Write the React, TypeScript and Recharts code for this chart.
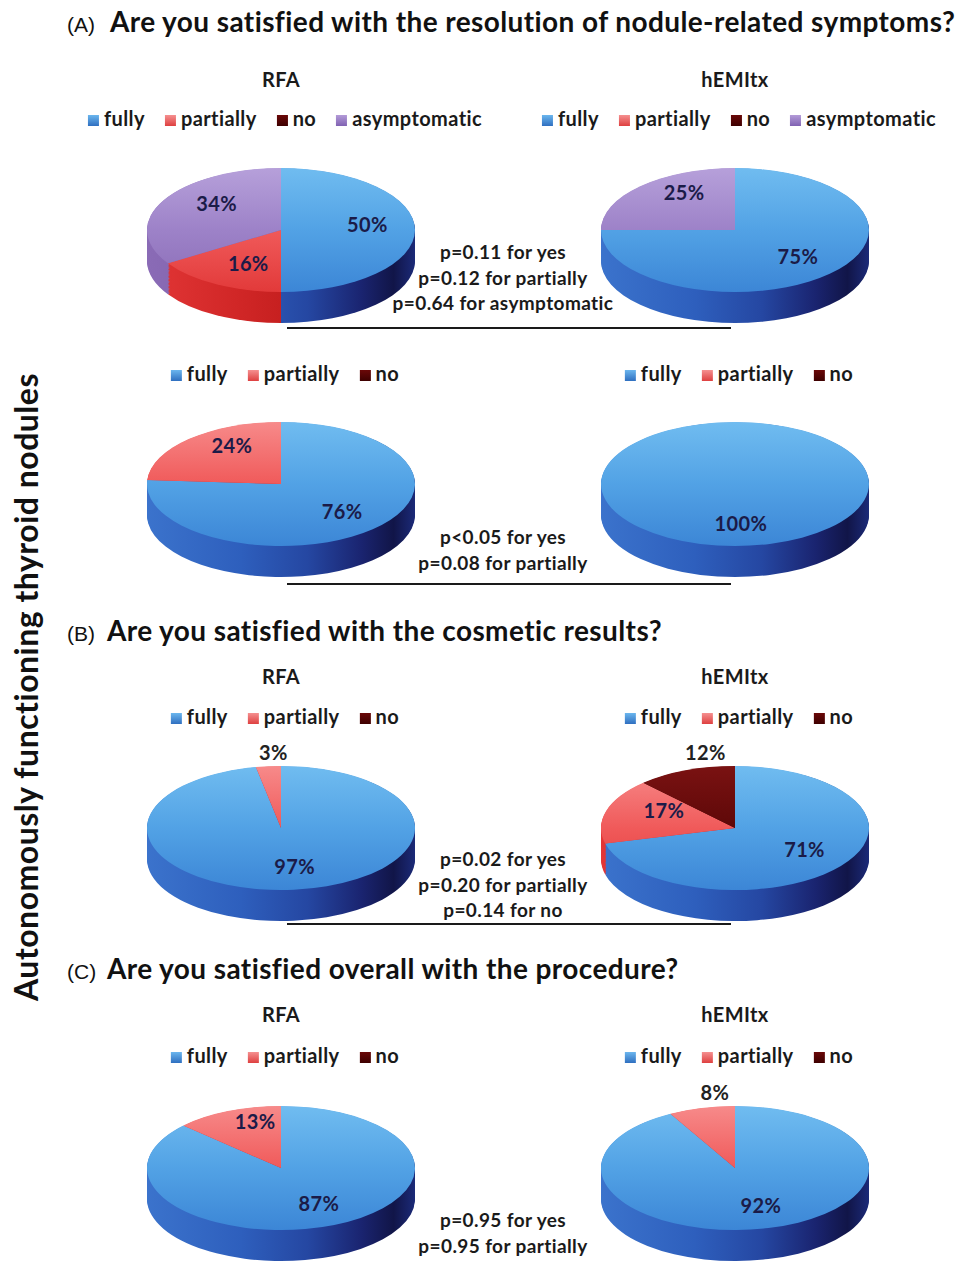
import React from 'react';
import { PieChart, Pie, Cell } from 'recharts';

// categories
const CATS_SYMPTOMS = ['fully', 'partially', 'no', 'asymptomatic'];
const CATS = ['fully', 'partially', 'no'];

// percentages per category, RFA vs hEMItx
const symptomsRFA = [50, 16, 0, 34];
const symptomsHEMItx = [75, 0, 0, 25];
const symptomaticRFA = [76, 24, 0];
const symptomaticHEMItx = [100, 0, 0];
const cosmeticRFA = [97, 3, 0];
const cosmeticHEMItx = [71, 17, 12];
const overallRFA = [87, 13, 0];
const overallHEMItx = [92, 8, 0];

// p-value notes between the pies
const pSymptoms = ['p=0.11 for yes', 'p=0.12 for partially', 'p=0.64 for asymptomatic'];
const pSymptomatic = ['p<0.05 for yes', 'p=0.08 for partially'];
const pCosmetic = ['p=0.02 for yes', 'p=0.20 for partially', 'p=0.14 for no'];
const pOverall = ['p=0.95 for yes', 'p=0.95 for partially'];

const GROUPS = ['RFA', 'hEMItx'];
const QUESTIONS = [
  'Are you satisfied with the resolution of nodule-related symptoms?',
  'Are you satisfied with the cosmetic results?',
  'Are you satisfied overall with the procedure?',
];
const TAGS = ['(A)', '(B)', '(C)'];
const SIDE_TITLE = 'Autonomously functioning thyroid nodules';

const FONT = 'Lato, "Open Sans", sans-serif';
const RAD = Math.PI / 180;

// pie geometry (unscaled), the wrapper is squashed vertically by K
const K = 0.4627;
const R = 134;
const DEPTH = 67;
const PAD_TOP = 80;
const CW = 290;
const PIE_CY = PAD_TOP + R;
const CH = PIE_CY + R + DEPTH + 20;
const X_RFA = 281;
const X_HEMI = 735;

const TOP_STOPS: Record<string, string[]> = {
  fully: ['#70bcf0', '#52a2e5', '#3c86d6'],
  partially: ['#f78a8a', '#f05a5a', '#e23a3a'],
  no: ['#7a1212', '#5e0808', '#480404'],
  asymptomatic: ['#b6a0da', '#9d82c8', '#8a6cb6'],
};
const SIDE_STOPS: Record<string, string[]> = {
  fully: ['#3b73cc', '#2e5fbd', '#2547a2', '#1a2470', '#111548', '#1b2a78'],
  partially: ['#e23636', '#d02626', '#c01c1c', '#981212', '#6e0a0a', '#7a0c0c'],
  no: ['#4a0404', '#420303', '#3a0202', '#300101', '#2a0000', '#2a0000'],
  asymptomatic: ['#8a6bb6', '#7e60aa', '#72549e', '#634690', '#553a80', '#5a3d85'],
};
const SIDE_OFFSETS = [0, 0.35, 0.6, 0.8, 0.92, 1];
const LEGEND_SWATCH: Record<string, string> = {
  fully: 'linear-gradient(#6bb6ee, #2f6fc0)',
  partially: 'linear-gradient(#f59090, #de4040)',
  no: 'linear-gradient(#6a0808, #3e0000)',
  asymptomatic: 'linear-gradient(#b39bd8, #8062b2)',
};

const ROWS = [
  { cats: CATS_SYMPTOMS, rfa: symptomsRFA, hemi: symptomsHEMItx, notes: pSymptoms, cy: 230, header: 87, legend: 126, note: 259, rule: 328 },
  { cats: CATS, rfa: symptomaticRFA, hemi: symptomaticHEMItx, notes: pSymptomatic, cy: 484, header: null, legend: 381, note: 544, rule: 584 },
  { cats: CATS, rfa: cosmeticRFA, hemi: cosmeticHEMItx, notes: pCosmetic, cy: 828, header: 684, legend: 724, note: 866, rule: 924 },
  { cats: CATS, rfa: overallRFA, hemi: overallHEMItx, notes: pOverall, cy: 1168, header: 1022, legend: 1063, note: 1227, rule: null },
];
const TITLE_Y = [32, 641, 979];

const makeLabel = (props: any) => {
  const { cx, cy, midAngle, value, name, index } = props;
  if (!value) return null;
  const c = Math.cos(-midAngle * RAD);
  const s = Math.sin(-midAngle * RAD);
  // small or dark slices get their label above the pie
  const outside = value < 10 || name === 'no';
  const x = outside ? cx + 0.6 * R * c : cx + 6 + 0.6 * R * c;
  const y = outside ? cy - R - 14 / K : cy + 0.72 * R * s - 6 / K;
  return (
    <text
      key={`lbl-${index}`}
      transform={`translate(${x},${y}) scale(1,${1 / K})`}
      textAnchor="middle"
      dominantBaseline="central"
      fontFamily={FONT}
      fontWeight={700}
      fontSize={20}
      letterSpacing={0.4}
      fill={outside ? '#222' : '#1b1b48'}
    >
      {value}%
    </text>
  );
};

const Pie3D = ({ id, cats, values, cx, cy }: { id: string; cats: string[]; values: number[]; cx: number; cy: number }) => {
  const data = cats.map((name, i) => ({ name, value: values[i] }));
  const layers: number[] = [];
  for (let d = DEPTH; d > 0; d -= 3) layers.push(d);
  const mid = CW / 2;
  return (
    <div
      style={{
        position: 'absolute',
        left: cx - mid,
        top: cy - PIE_CY * K,
        width: CW,
        height: CH,
        transform: `scaleY(${K})`,
        transformOrigin: '0 0',
      }}
    >
      <PieChart width={CW} height={CH} margin={{ top: 0, right: 0, bottom: 0, left: 0 }}>
        <defs>
          {cats.map((cat) => (
            <linearGradient key={`t-${cat}`} id={`${id}-top-${cat}`} gradientUnits="userSpaceOnUse" x1={0} y1={PIE_CY - R} x2={0} y2={PIE_CY + R}>
              <stop offset="0" stopColor={TOP_STOPS[cat][0]} />
              <stop offset="0.5" stopColor={TOP_STOPS[cat][1]} />
              <stop offset="1" stopColor={TOP_STOPS[cat][2]} />
            </linearGradient>
          ))}
          {cats.map((cat) => (
            <linearGradient key={`s-${cat}`} id={`${id}-side-${cat}`} gradientUnits="userSpaceOnUse" x1={mid - R} y1={0} x2={mid + R} y2={0}>
              {SIDE_STOPS[cat].map((col, i) => (
                <stop key={i} offset={SIDE_OFFSETS[i]} stopColor={col} />
              ))}
            </linearGradient>
          ))}
        </defs>
        {/* stacked copies below the top face build the rim */}
        {layers.map((d) => (
          <Pie
            key={`side-${d}`}
            data={data}
            dataKey="value"
            cx={mid}
            cy={PIE_CY + d}
            outerRadius={R}
            startAngle={90}
            endAngle={-270}
            stroke="none"
            isAnimationActive={false}
          >
            {data.map((e) => (
              <Cell key={e.name} fill={`url(#${id}-side-${e.name})`} />
            ))}
          </Pie>
        ))}
        <Pie
          data={data}
          dataKey="value"
          cx={mid}
          cy={PIE_CY}
          outerRadius={R}
          startAngle={90}
          endAngle={-270}
          stroke="none"
          label={makeLabel}
          labelLine={false}
          isAnimationActive={false}
        >
          {data.map((e) => (
            <Cell key={e.name} fill={`url(#${id}-top-${e.name})`} />
          ))}
        </Pie>
      </PieChart>
    </div>
  );
};

const LegendRow = ({ cats, x, baseline }: { cats: string[]; x: number; baseline: number }) => {
  const fs = 20;
  return (
    <div
      style={{
        position: 'absolute',
        left: x,
        top: baseline - 0.887 * fs,
        transform: 'translateX(-50%)',
        display: 'flex',
        gap: 20,
        whiteSpace: 'nowrap',
        fontFamily: FONT,
        fontWeight: 700,
        fontSize: fs,
        letterSpacing: 0.4,
        lineHeight: 1,
        color: '#1a1a1a',
      }}
    >
      {cats.map((cat) => (
        <span key={cat}>
          <span
            style={{
              display: 'inline-block',
              width: 11,
              height: 11,
              marginRight: 5,
              verticalAlign: 'baseline',
              background: LEGEND_SWATCH[cat],
            }}
          />
          {cat}
        </span>
      ))}
    </div>
  );
};

export default function App() {
  return (
    <div style={{ position: 'absolute', left: 0, top: 0, width: 969, height: 1262, background: '#fff', overflow: 'hidden' }}>
      {ROWS.map((row, i) => (
        <React.Fragment key={i}>
          <Pie3D id={`p${i}a`} cats={row.cats} values={row.rfa} cx={X_RFA} cy={row.cy} />
          <Pie3D id={`p${i}b`} cats={row.cats} values={row.hemi} cx={X_HEMI} cy={row.cy} />
          <LegendRow cats={row.cats} x={X_RFA + 4} baseline={row.legend} />
          <LegendRow cats={row.cats} x={X_HEMI + 4} baseline={row.legend} />
        </React.Fragment>
      ))}
      <svg width={969} height={1262} style={{ position: 'absolute', left: 0, top: 0, pointerEvents: 'none' }}>
        {TAGS.map((tag, i) => (
          <g key={tag}>
            <text x={67} y={TITLE_Y[i]} fontFamily='"Liberation Sans", Arial, sans-serif' fontSize={21} fill="#111">
              {tag}
            </text>
            <text x={i === 0 ? 110 : 107} y={TITLE_Y[i]} fontFamily={FONT} fontWeight={700} fontSize={28} letterSpacing={0.4} fill="#111">
              {QUESTIONS[i]}
            </text>
          </g>
        ))}
        <text
          transform="translate(38,687) rotate(-90)"
          textAnchor="middle"
          fontFamily={FONT}
          fontWeight={700}
          fontSize={32}
          letterSpacing={0.5}
          fill="#111"
        >
          {SIDE_TITLE}
        </text>
        {ROWS.map((row, i) => (
          <g key={i}>
            {row.header !== null &&
              [X_RFA, X_HEMI].map((x, j) => (
                <text key={j} x={x} y={row.header as number} textAnchor="middle" fontFamily={FONT} fontWeight={700} fontSize={20} letterSpacing={0.4} fill="#1a1a1a">
                  {GROUPS[j]}
                </text>
              ))}
            {row.notes.map((t, j) => (
              <text key={j} x={503} y={row.note + j * 25.5} textAnchor="middle" fontFamily={FONT} fontWeight={700} fontSize={19} letterSpacing={0.4} fill="#1a1a1a">
                {t}
              </text>
            ))}
            {row.rule !== null && <line x1={287} x2={731} y1={row.rule} y2={row.rule} stroke="#1a1a1a" strokeWidth={2} />}
          </g>
        ))}
      </svg>
    </div>
  );
}
